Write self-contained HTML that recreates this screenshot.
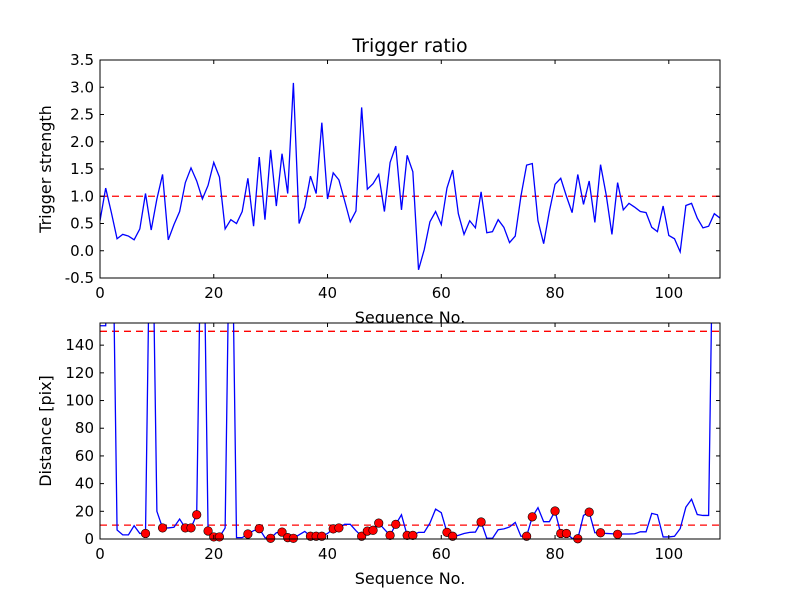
<!DOCTYPE html>
<html><head><meta charset="utf-8"><style>
body{margin:0;background:#fff}
svg{display:block;font-family:"DejaVu Sans","Liberation Sans",sans-serif}
</style></head><body>
<svg id="chart" width="800" height="600" viewBox="0 0 800 600" xmlns="http://www.w3.org/2000/svg">
<rect width="800" height="600" fill="#fff"/>
</svg>
<script>
const topValues=[0.55,1.15,0.7,0.22,0.3,0.27,0.2,0.4,1.05,0.38,0.95,1.4,0.2,0.48,0.72,1.25,1.52,1.28,0.95,1.2,1.62,1.35,0.4,0.57,0.5,0.72,1.33,0.45,1.72,0.57,1.85,0.82,1.78,1.05,3.08,0.5,0.8,1.37,1.05,2.35,0.95,1.43,1.3,0.92,0.53,0.73,2.63,1.13,1.23,1.4,0.72,1.62,1.92,0.75,1.75,1.45,-0.35,0.02,0.53,0.72,0.48,1.15,1.48,0.68,0.3,0.55,0.42,1.08,0.33,0.35,0.57,0.43,0.15,0.27,1.0,1.57,1.6,0.55,0.13,0.72,1.22,1.33,1.0,0.7,1.4,0.85,1.28,0.52,1.58,1.02,0.3,1.25,0.75,0.87,0.8,0.72,0.7,0.43,0.35,0.82,0.28,0.22,-0.02,0.83,0.87,0.6,0.42,0.45,0.68,0.6];
const distValues=[154,154,300,6.5,3,3,9.6,4,4,300,20,8,8,8.5,14.4,8,8,17.5,300,5.8,1.5,1.5,8,300,1,1,3.6,6,7.5,1,0.5,4.5,5,1,0.5,3,5.5,2,2,2,4,7.3,8,10.6,10.6,6,2,5.7,6.3,11.5,7,2.6,10.6,17.5,2.6,2.6,4.8,4.8,11.5,21.6,19,4.8,2,2.6,4,4.8,5,12.3,0.5,0.5,6.7,7.3,8.7,12,2,2,16,22.6,12.5,12.5,20.2,4,4,0.5,0.2,17,19.4,4.5,4.5,4,3.8,3.4,3.6,3.6,3.8,5.2,5.2,18.5,17.5,1.5,1.5,2,7.5,23,28.7,17.7,17,17,300,300];
const markerIdx=[8,11,15,16,17,19,20,21,26,28,30,32,33,34,37,38,39,41,42,46,47,48,49,51,52,54,55,61,62,67,75,76,80,81,82,84,86,88,91];
const xTicks=[0,20,40,60,80,100];
const topYTicks=[-0.5,0,0.5,1,1.5,2,2.5,3,3.5];
const botYTicks=[0,20,40,60,80,100,120,140];
const topThresh=[1.0];
const botThresh=[10,150];

const NS="http://www.w3.org/2000/svg";
const svg=document.getElementById('chart');
function el(t,a,p){const e=document.createElementNS(NS,t);for(const k in a)e.setAttribute(k,a[k]);(p||svg).appendChild(e);return e;}
const X0=100,X1=720,XMIN=0,XMAX=109;
const sx=v=>X0+(v-XMIN)/(XMAX-XMIN)*(X1-X0);
function makeAxes(name,y0,y1,ymin,ymax,yTicks,yfmt,ylabel,title){
  const sy=v=>y1-(v-ymin)/(ymax-ymin)*(y1-y0);
  const g=el('g',{});
  
  
  el('rect',{x:X0,y:y0,width:X1-X0,height:y1-y0,fill:'#fff'},g);
  const cid='clip-'+name;
  const cp=el('clipPath',{id:cid},g);el('rect',{x:X0,y:y0,width:X1-X0,height:y1-y0},cp);
  const plot=el('g',{'clip-path':'url(#'+cid+')'},g);
  return {g,plot,sy,y0,y1,finish(){
    el('rect',{x:X0,y:y0,width:X1-X0,height:y1-y0,fill:'none',stroke:'#000','stroke-width':1},g);
    xTicks.forEach(t=>{const x=sx(t);
      el('line',{x1:x,x2:x,y1:y1,y2:y1-4,stroke:'#000'},g);el('line',{x1:x,x2:x,y1:y0,y2:y0+4,stroke:'#000'},g);
      const tx=el('text',{x:x,y:y1+20,'text-anchor':'middle','font-size':15},g);tx.textContent=t;
      
      });
    yTicks.forEach(t=>{const y=sy(t);
      el('line',{x1:X0,x2:X0+4,y1:y,y2:y,stroke:'#000'},g);el('line',{x1:X1,x2:X1-4,y1:y,y2:y,stroke:'#000'},g);
      const tx=el('text',{x:X0-6,y:y+5,'text-anchor':'end','font-size':15},g);tx.textContent=yfmt(t);
      
      });
    const xl=el('text',{x:(X0+X1)/2,y:y1+45,'text-anchor':'middle','font-size':16},g);xl.textContent='Sequence No.';
    
    
    const cy=(y0+y1)/2;
    const yl=el('text',{x:51,y:cy,'text-anchor':'middle','font-size':16,transform:'rotate(-90 51 '+cy+')'},g);yl.textContent=ylabel;
    
    
    if(title){const tt=el('text',{x:(X0+X1)/2,y:y0-8,'text-anchor':'middle','font-size':19},g);tt.textContent=title;
      
      }
  }};
}
// top
const A=makeAxes('top-axes',60,278,-0.5,3.5,topYTicks,v=>v.toFixed(1),'Trigger strength','Trigger ratio');
topThresh.forEach(v=>{const l=el('line',{x1:X0,x2:X1,y1:A.sy(v),y2:A.sy(v),stroke:'#f00','stroke-width':1.3,'stroke-dasharray':'7,5'},A.plot);
  
  });
const p1=el('polyline',{points:topValues.map((v,i)=>sx(i)+','+A.sy(v)).join(' '),fill:'none',stroke:'#00f','stroke-width':1.3},A.plot);


A.finish();
// bottom
const B=makeAxes('bottom-axes',323,539,0,156,botYTicks,v=>String(v),'Distance [pix]',null);
botThresh.forEach(v=>{const l=el('line',{x1:X0,x2:X1,y1:B.sy(v),y2:B.sy(v),stroke:'#f00','stroke-width':1.3,'stroke-dasharray':'7,5'},B.plot);
  
  });
const p2=el('polyline',{points:distValues.map((v,i)=>sx(i)+','+B.sy(v)).join(' '),fill:'none',stroke:'#00f','stroke-width':1.3},B.plot);


markerIdx.forEach(i=>{const c=el('circle',{cx:sx(i),cy:B.sy(distValues[i]),r:4.3,fill:'#f00',stroke:'#000','stroke-width':0.6},B.g);
  
  });
B.finish();
</script>
</body></html>
